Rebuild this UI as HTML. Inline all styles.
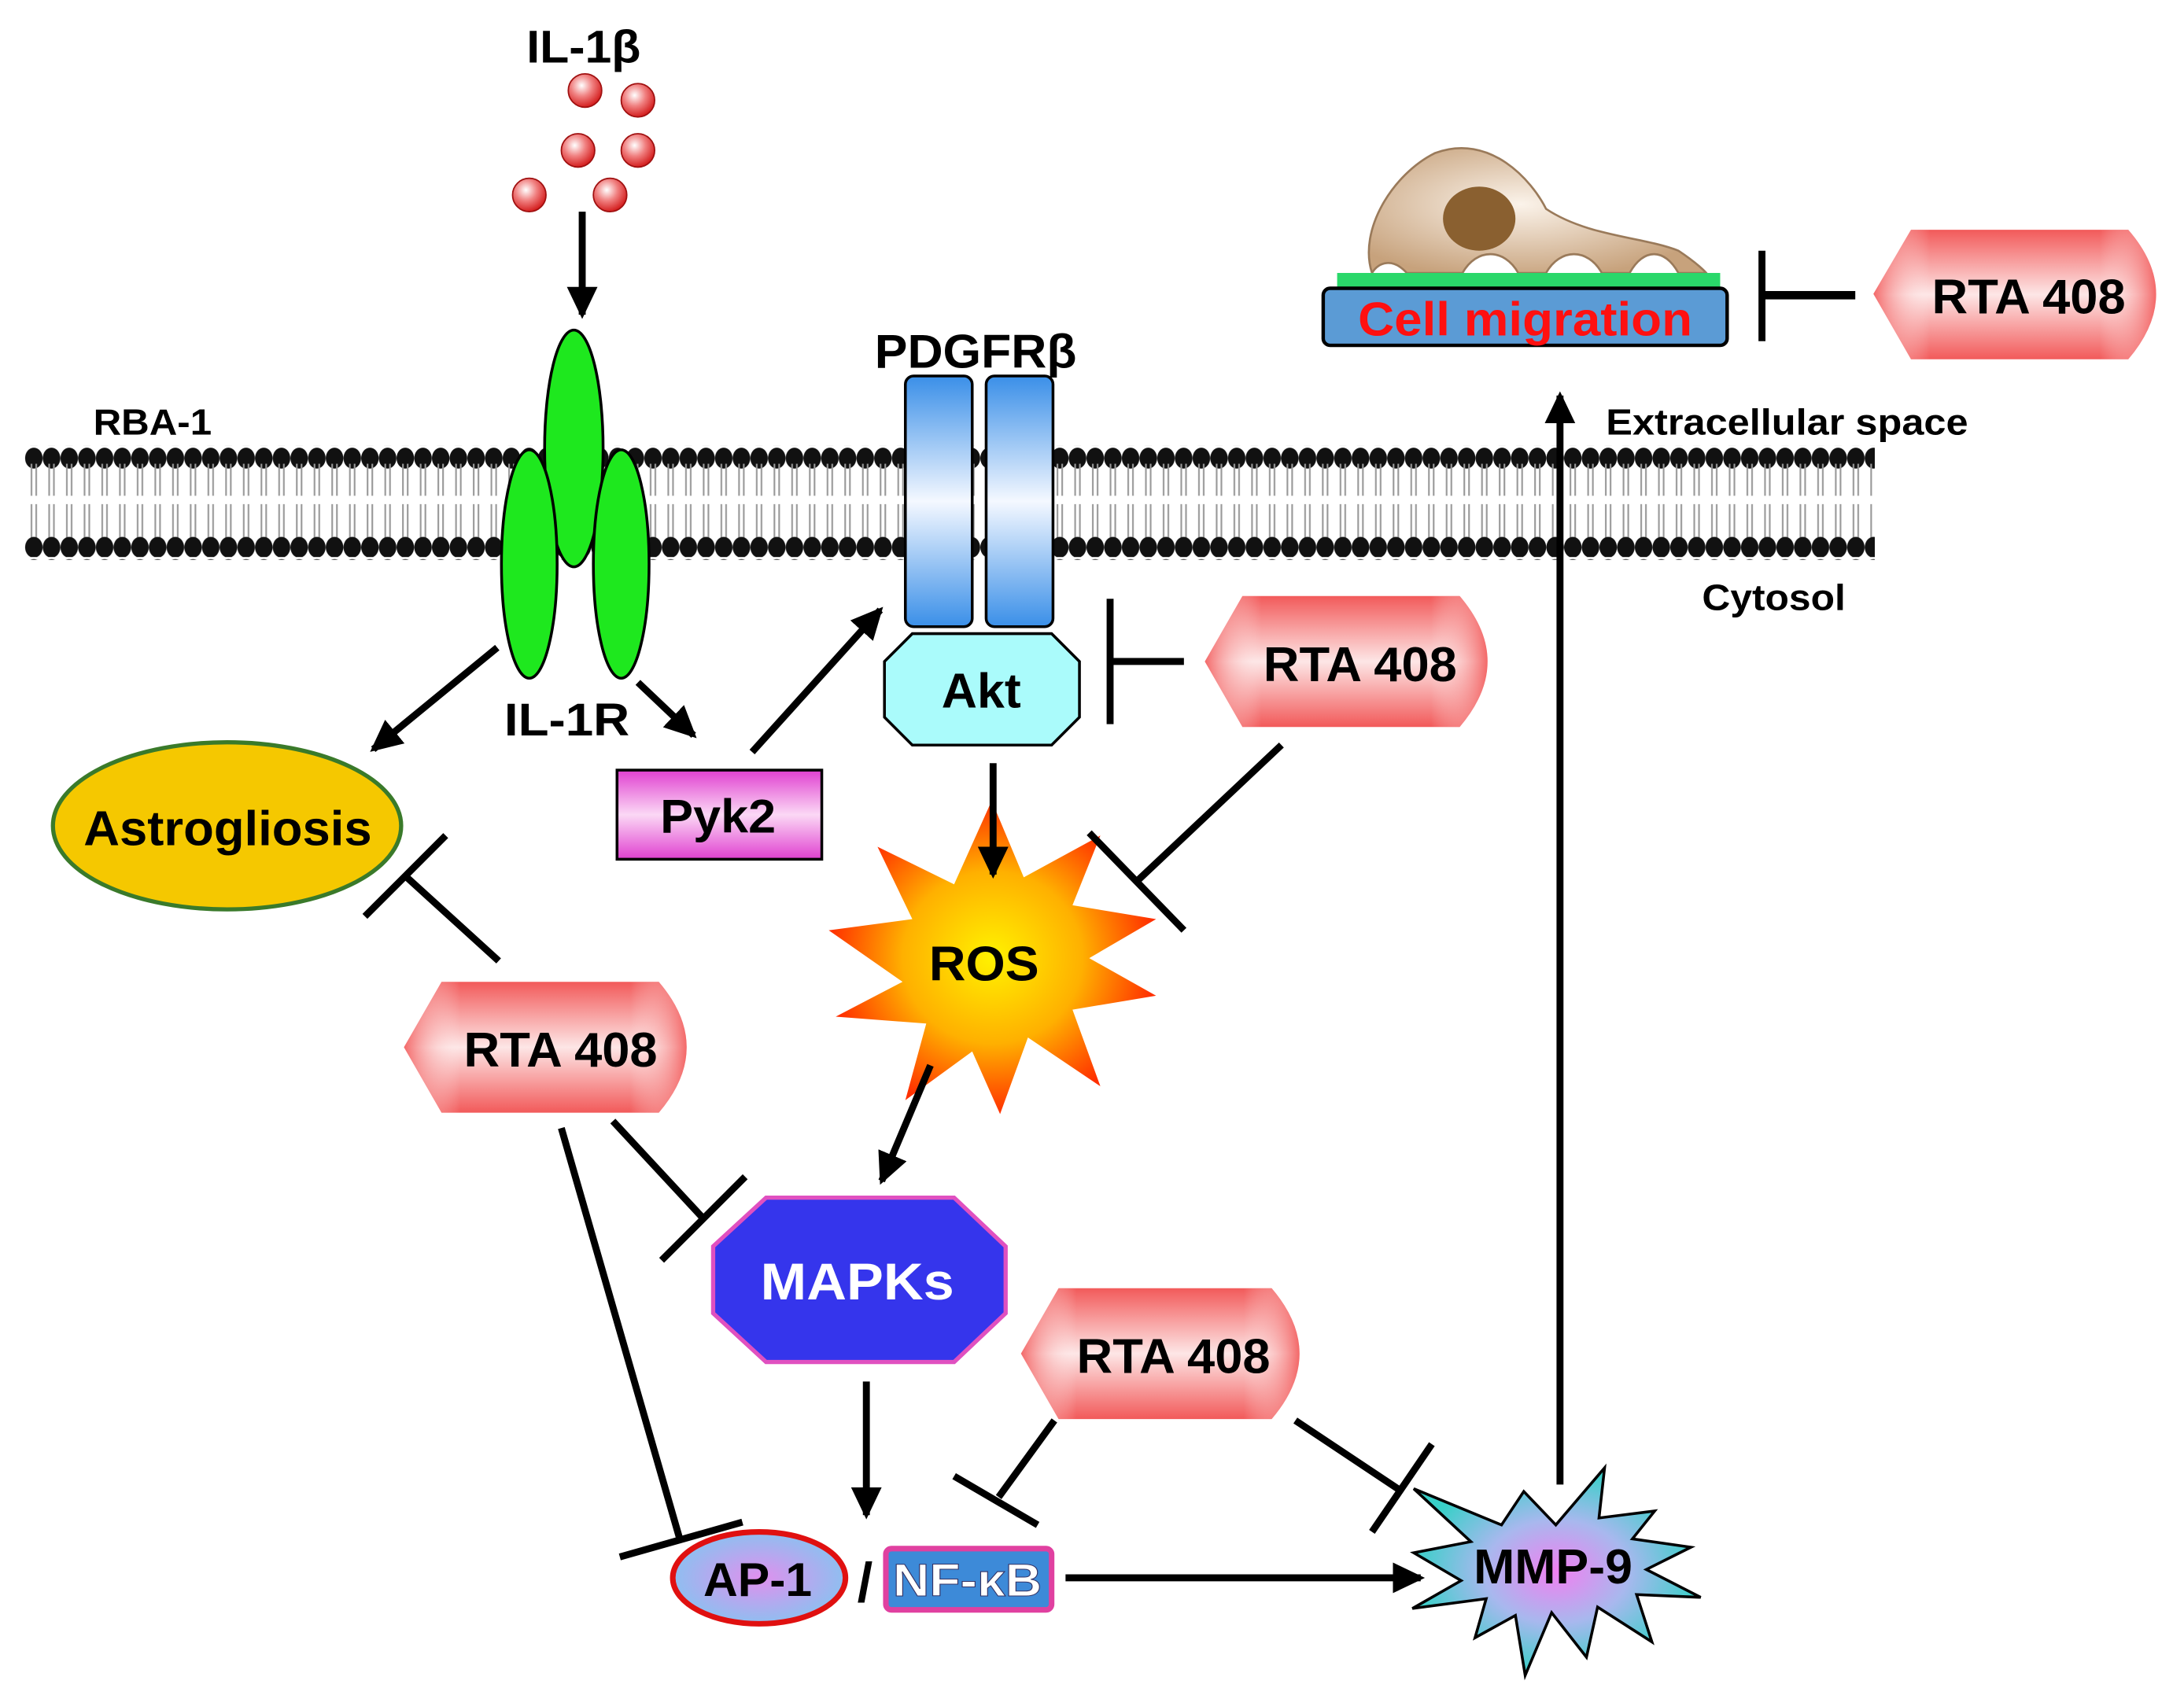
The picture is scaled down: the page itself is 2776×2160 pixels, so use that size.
<!DOCTYPE html>
<html><head><meta charset="utf-8"><style>html,body{margin:0;padding:0;background:#fff}svg{display:block}</style></head><body>
<svg width="2776" height="2160" viewBox="0 0 1568 1220" preserveAspectRatio="none" xmlns="http://www.w3.org/2000/svg" font-family="Liberation Sans, Arial, sans-serif" font-weight="bold">
<defs>
<radialGradient id="ball" cx="40%" cy="35%" r="65%"><stop offset="0" stop-color="#fff"/><stop offset="0.5" stop-color="#f08080"/><stop offset="1" stop-color="#d42020"/></radialGradient>
<linearGradient id="rta" x1="0" y1="0" x2="0" y2="1"><stop offset="0" stop-color="#f25a5a"/><stop offset="0.5" stop-color="#fde6e6"/><stop offset="1" stop-color="#f25a5a"/></linearGradient>
<linearGradient id="rtah" x1="0" y1="0" x2="1" y2="0"><stop offset="0" stop-color="#f25a5a" stop-opacity="0.9"/><stop offset="0.2" stop-color="#fff" stop-opacity="0"/><stop offset="0.8" stop-color="#fff" stop-opacity="0"/><stop offset="1" stop-color="#f25a5a" stop-opacity="0.9"/></linearGradient>
<linearGradient id="pdg" x1="0" y1="0" x2="0" y2="1"><stop offset="0" stop-color="#3a8fe8"/><stop offset="0.5" stop-color="#f4f8ff"/><stop offset="1" stop-color="#3a8fe8"/></linearGradient>
<linearGradient id="pyk" x1="0" y1="0" x2="0" y2="1"><stop offset="0" stop-color="#e040d0"/><stop offset="0.5" stop-color="#fbd8f5"/><stop offset="1" stop-color="#e040d0"/></linearGradient>
<radialGradient id="ros" cx="50%" cy="50%" r="50%"><stop offset="0" stop-color="#fff200"/><stop offset="0.55" stop-color="#ffb000"/><stop offset="1" stop-color="#ff3000"/></radialGradient>
<radialGradient id="mmp" cx="50%" cy="50%" r="50%"><stop offset="0" stop-color="#f080f0"/><stop offset="0.5" stop-color="#a8b8ee"/><stop offset="1" stop-color="#38d0c8"/></radialGradient>
<radialGradient id="cell" cx="45%" cy="45%" r="60%"><stop offset="0" stop-color="#fbf3ea"/><stop offset="1" stop-color="#c7a27c"/></radialGradient>
<radialGradient id="ap1" cx="50%" cy="50%" r="60%"><stop offset="0" stop-color="#e090ee"/><stop offset="1" stop-color="#7ec8f0"/></radialGradient>
<marker id="ar" markerWidth="5" markerHeight="5" refX="4" refY="2.5" orient="auto" markerUnits="strokeWidth"><path d="M0,0.3 L4.6,2.5 L0,4.7 Z" fill="#000"/></marker>
<pattern id="lipT" x="18" y="320" width="12.7" height="80" patternUnits="userSpaceOnUse">
<ellipse cx="6.3" cy="9" rx="6.3" ry="7.5" fill="#111"/><line x1="4.6" y1="13" x2="4.6" y2="36" stroke="#999" stroke-width="1.2"/><line x1="8" y1="13" x2="8" y2="36" stroke="#999" stroke-width="1.2"/>
<line x1="4.6" y1="42" x2="4.6" y2="66" stroke="#999" stroke-width="1.2"/><line x1="8" y1="42" x2="8" y2="66" stroke="#999" stroke-width="1.2"/>
<ellipse cx="6.3" cy="73" rx="6.3" ry="7.5" fill="#111"/>
</pattern>
</defs>
<rect width="1568" height="1220" fill="#fff"/>
<rect x="18" y="320" width="1328" height="82" fill="url(#lipT)"/>
<text x="67" y="312" font-size="26" textLength="85" lengthAdjust="spacingAndGlyphs">RBA-1</text>
<text x="1153" y="312" font-size="26" textLength="260" lengthAdjust="spacingAndGlyphs">Extracellular space</text>
<text x="1222" y="438" font-size="26" textLength="103" lengthAdjust="spacingAndGlyphs">Cytosol</text>
<text x="378" y="45" font-size="33" textLength="82" lengthAdjust="spacingAndGlyphs">IL-1β</text>
<g fill="url(#ball)" stroke="#a01010" stroke-width="1"><circle cx="420" cy="65" r="12"/><circle cx="458" cy="72" r="12"/><circle cx="415" cy="108" r="12"/><circle cx="458" cy="108" r="12"/><circle cx="380" cy="140" r="12"/><circle cx="438" cy="140" r="12"/></g>
<line x1="418" y1="152" x2="418" y2="226" stroke="#000" stroke-width="5" marker-end="url(#ar)"/>
<g fill="#1ee81e" stroke="#000" stroke-width="2"><ellipse cx="412" cy="322" rx="21" ry="85"/><ellipse cx="380" cy="405" rx="20" ry="82"/><ellipse cx="446" cy="405" rx="20" ry="82"/></g>
<text x="362" y="528" font-size="33" textLength="90" lengthAdjust="spacingAndGlyphs">IL-1R</text>
<text x="628" y="264" font-size="34" textLength="145" lengthAdjust="spacingAndGlyphs">PDGFRβ</text>
<rect x="650" y="270" width="48" height="180" rx="6" fill="url(#pdg)" stroke="#000" stroke-width="2"/>
<rect x="708" y="270" width="48" height="180" rx="6" fill="url(#pdg)" stroke="#000" stroke-width="2"/>
<polygon points="655,455 755,455 775,475 775,515 755,535 655,535 635,515 635,475" fill="#aafbfb" stroke="#000" stroke-width="2"/>
<text x="676" y="508" font-size="35" textLength="57" lengthAdjust="spacingAndGlyphs">Akt</text>
<path d="M985,196 C975,165 1000,125 1030,110 C1070,95 1100,130 1110,150 C1140,170 1180,170 1205,180 C1220,190 1225,196 1225,196 L1205,196 C1195,178 1180,178 1170,196 L1150,196 C1140,178 1120,178 1110,196 L1090,196 C1080,178 1060,178 1050,196 L1010,196 C1000,185 990,188 985,196 Z" fill="url(#cell)" stroke="#9a7a5a" stroke-width="1.5"/>
<ellipse cx="1062" cy="157" rx="26" ry="23" fill="#8a6030"/>
<rect x="960" y="196" width="275" height="12" fill="#2ad86a"/>
<rect x="950" y="207" width="290" height="41" rx="5" fill="#5b9bd5" stroke="#000" stroke-width="2.5"/>
<text x="975" y="241" font-size="34" fill="#ff1010" textLength="240" lengthAdjust="spacingAndGlyphs">Cell migration</text>
<line x1="1265" y1="180" x2="1265" y2="245" stroke="#000" stroke-width="5"/>
<line x1="1265" y1="212" x2="1332" y2="212" stroke="#000" stroke-width="6"/>
<g stroke="none">
<path d="M1345,211 L1372,165 L1528,165 Q1568,211 1528,258 L1372,258 Z" fill="url(#rta)"/>
<path d="M1345,211 L1372,165 L1528,165 Q1568,211 1528,258 L1372,258 Z" fill="url(#rtah)"/>
<path d="M865,475 L892,428 L1048,428 Q1088,475 1048,522 L892,522 Z" fill="url(#rta)"/>
<path d="M865,475 L892,428 L1048,428 Q1088,475 1048,522 L892,522 Z" fill="url(#rtah)"/>
<path d="M290,752 L317,705 L473,705 Q513,752 473,799 L317,799 Z" fill="url(#rta)"/>
<path d="M290,752 L317,705 L473,705 Q513,752 473,799 L317,799 Z" fill="url(#rtah)"/>
<path d="M733,972 L760,925 L913,925 Q953,972 913,1019 L760,1019 Z" fill="url(#rta)"/>
<path d="M733,972 L760,925 L913,925 Q953,972 913,1019 L760,1019 Z" fill="url(#rtah)"/>
</g>
<g font-size="35">
<text x="1387" y="225" textLength="139" lengthAdjust="spacingAndGlyphs">RTA 408</text>
<text x="907" y="489" textLength="139" lengthAdjust="spacingAndGlyphs">RTA 408</text>
<text x="333" y="766" textLength="139" lengthAdjust="spacingAndGlyphs">RTA 408</text>
<text x="773" y="986" textLength="139" lengthAdjust="spacingAndGlyphs">RTA 408</text>
</g>
<line x1="797" y1="430" x2="797" y2="520" stroke="#000" stroke-width="5"/>
<line x1="797" y1="475" x2="850" y2="475" stroke="#000" stroke-width="5"/>
<ellipse cx="163" cy="593" rx="125" ry="60" fill="#f5c800" stroke="#3a7a2a" stroke-width="3"/>
<text x="60" y="607" font-size="35" textLength="207" lengthAdjust="spacingAndGlyphs">Astrogliosis</text>
<rect x="443" y="553" width="147" height="64" fill="url(#pyk)" stroke="#000" stroke-width="2"/>
<text x="474" y="598" font-size="34" textLength="83" lengthAdjust="spacingAndGlyphs">Pyk2</text>
<polygon fill="url(#ros)" stroke="none" points="712,575 735,630 790,600 770,650 830,660 782,688 830,715 770,725 790,780 738,745 718,800 698,755 650,790 665,735 600,730 648,705 595,668 655,660 630,608 685,635"/>
<text x="667" y="704" font-size="35" textLength="79" lengthAdjust="spacingAndGlyphs">ROS</text>
<polygon points="550,860 685,860 722,895 722,943 685,978 550,978 512,943 512,895" fill="#3535ec" stroke="#e050c0" stroke-width="3"/>
<text x="546" y="933" font-size="37" fill="#fff" textLength="139" lengthAdjust="spacingAndGlyphs">MAPKs</text>
<ellipse cx="545" cy="1133" rx="62" ry="33" fill="url(#ap1)" stroke="#e01010" stroke-width="4"/>
<text x="505" y="1146" font-size="34" textLength="78" lengthAdjust="spacingAndGlyphs">AP-1</text>
<text x="621" y="1150" font-size="40" text-anchor="middle">/</text>
<rect x="636" y="1112" width="119" height="44" rx="4" fill="#3d8ad8" stroke="#e040a0" stroke-width="4"/>
<text x="641" y="1146" font-size="33" fill="#fff" stroke="#336" stroke-width="0.6" textLength="107" lengthAdjust="spacingAndGlyphs">NF-κB</text>
<polygon fill="url(#mmp)" stroke="#000" stroke-width="2" points="1015,1069 1078,1095 1094,1071 1117,1095 1152,1054 1148,1090 1188,1085 1172,1105 1214,1111 1182,1127 1221,1147 1175,1145 1186,1179 1147,1154 1139,1190 1114,1158 1095,1203 1088,1160 1059,1176 1067,1148 1014,1155 1049,1135 1015,1115 1056,1107"/>
<text x="1058" y="1137" font-size="35" textLength="114" lengthAdjust="spacingAndGlyphs">MMP-9</text>
<g stroke="#000" stroke-width="5" marker-end="url(#ar)" fill="none">
<line x1="357" y1="465" x2="268" y2="538"/>
<line x1="458" y1="490" x2="498" y2="528"/>
<line x1="540" y1="540" x2="632" y2="438"/>
<line x1="713" y1="548" x2="713" y2="628"/>
<line x1="668" y1="765" x2="633" y2="848"/>
<line x1="622" y1="992" x2="622" y2="1088"/>
<line x1="765" y1="1133" x2="1020" y2="1133"/>
<line x1="1120" y1="1066" x2="1120" y2="284"/>
</g>
<g stroke="#000" stroke-width="5" fill="none">
<line x1="358" y1="690" x2="291" y2="629"/><line x1="262" y1="658" x2="320" y2="600"/>
<line x1="920" y1="535" x2="816" y2="633"/><line x1="782" y1="598" x2="850" y2="668"/>
<line x1="440" y1="805" x2="505" y2="875"/><line x1="475" y1="905" x2="535" y2="845"/>
<line x1="403" y1="810" x2="488" y2="1105"/><line x1="445" y1="1118" x2="533" y2="1093"/>
<line x1="757" y1="1020" x2="717" y2="1075"/><line x1="685" y1="1060" x2="745" y2="1095"/>
<line x1="930" y1="1020" x2="1005" y2="1070"/><line x1="985" y1="1100" x2="1028" y2="1037"/>
</g>
</svg>
</body></html>
